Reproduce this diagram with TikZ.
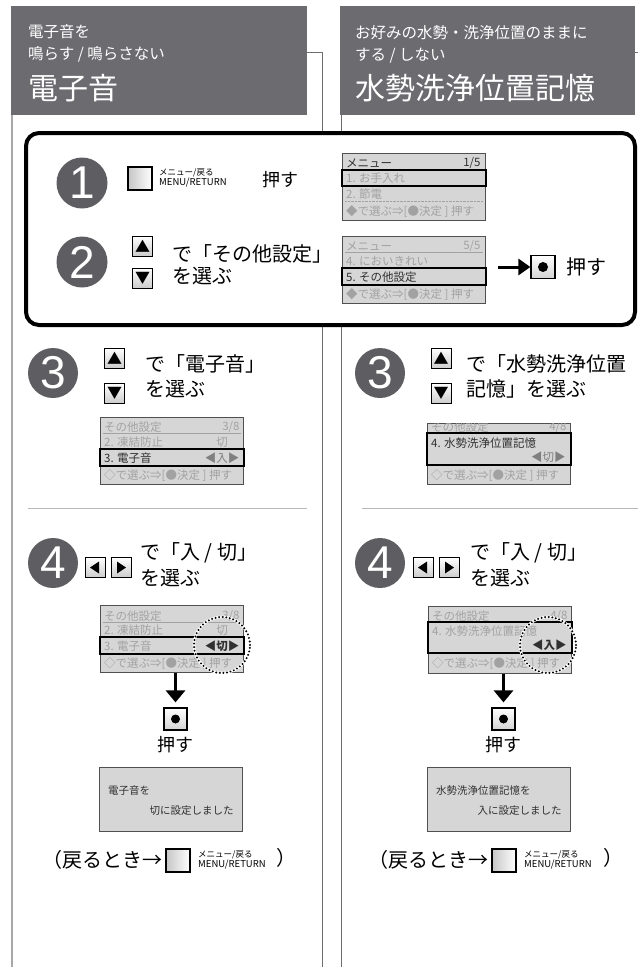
\documentclass[tikz,border=0pt]{standalone}
\usepackage{fontspec}
\setmainfont{Noto Sans CJK JP}
\newfontfamily\digitfont{Liberation Sans}
\usepackage{tikz}
\usetikzlibrary{arrows.meta, positioning, calc, backgrounds}

\definecolor{headgray}{HTML}{6B6B70}
\definecolor{numgray}{HTML}{5E5E62}
\definecolor{scrfill}{HTML}{D6D6D6}
\definecolor{scrline}{HTML}{505050}
\definecolor{scrdim}{HTML}{A2A2A2}
\definecolor{scrmid}{HTML}{808080}
\definecolor{scrtext}{HTML}{303030}
\definecolor{panelline}{HTML}{6E6E6E}
\definecolor{leftline}{HTML}{A8A8A8}
\definecolor{rulegray}{HTML}{B8B8B8}

\tikzset{
  headsmall/.style = {anchor=west, text=white, inner sep=0pt, font=\fontsize{15.5}{16}\selectfont},
  headbig/.style = {anchor=west, text=white, inner sep=0pt, font=\fontsize{30}{30}\selectfont},
  stepnum/.style = {circle, fill=numgray, text=white, minimum size=51pt, inner sep=0pt, font=\digitfont\fontsize{46}{46}\selectfont},
  keybtn/.style = {draw=black, line width=0.9pt, top color=white, bottom color=gray!40, minimum width=20pt, minimum height=20pt, inner sep=0pt, font=\fontsize{15}{15}\selectfont},
  menubtn/.style = {draw=black, line width=2pt, left color=gray!45, right color=white, minimum width=24pt, minimum height=23pt, inner sep=0pt},
  okbtn/.style = {draw=black, line width=1.2pt, top color=white, bottom color=gray!35, minimum width=24pt, minimum height=23pt, inner sep=0pt},
  btnlabel/.style = {align=left, inner sep=0pt, font=\fontsize{8.5}{10.5}\selectfont},
  screen/.style = {draw=scrline, line width=0.8pt, fill=scrfill, minimum width=143pt, minimum height=67pt, inner sep=0pt, anchor=north west},
  hilite/.style = {draw=black, line width=1.4pt},
  dimrow/.style = {text=scrdim, inner sep=0pt, font=\fontsize{11.5}{12}\selectfont},
  midrow/.style = {text=scrmid, inner sep=0pt, font=\fontsize{11.5}{12}\selectfont},
  litrow/.style = {text=scrtext, inner sep=0pt, font=\fontsize{11.5}{12}\selectfont},
  msgtxt/.style = {text=scrtext, inner sep=0pt, font=\fontsize{10.5}{11}\selectfont},
  bigtxt/.style = {anchor=west, align=left, inner sep=0pt, font=\fontsize{20}{25}\selectfont},
  pushtxt/.style = {inner sep=0pt, font=\fontsize{18}{18}\selectfont},
  backtxt/.style = {inner sep=0pt, font=\fontsize{20}{20}\selectfont},
  thickarrow/.style = {line width=3pt, -{Triangle[length=12pt, width=19pt]}},
  dotring/.style = {line width=2.2pt, line cap=round, dash pattern=on 0pt off 3.6pt},
}

\begin{document}
\begin{tikzpicture}[x=1pt, y=-1pt]
\useasboundingbox (0, 0) rectangle (638, 967);

% Column frames
\draw [leftline, line width=1.8pt] (12, 115) -- (12, 967);
\draw [panelline, line width=0.9pt] (307, 52) -- (322, 52) -- (322, 967);
\draw [panelline, line width=0.9pt] (341, 115) -- (341, 967);
\draw [panelline, line width=0.9pt] (635, 52) -- (638, 52);

% Headers
\fill [headgray] (11, 6) rectangle (307, 115);
\fill [headgray] (340, 6) rectangle (635, 115);
\node [headsmall] (hl1) at (28, 32) {電子音を};
\node [headsmall] (hl2) at (28, 54) {鳴らす / 鳴らさない};
\node [headbig] (hl3) at (28, 88) {電子音};
\node [headsmall] (hr1) at (355, 33) {お好みの水勢・洗浄位置のままに};
\node [headsmall] (hr2) at (355, 56) {する / しない};
\node [headbig] (hr3) at (355, 88) {水勢洗浄位置記憶};

% Steps 1 and 2 (common)
\draw [line width=4pt, fill=white, rounded corners=13pt] (26, 133) rectangle (635, 325);

\node [stepnum] (n1) at (82, 183) {1};
\node [menubtn] (mb1) at (140, 178) {};
\node [btnlabel, right=6pt of mb1] (mbl1) {メニュー/戻る\\{\fontsize{9.5}{10}\selectfont MENU/RETURN}};
\node [pushtxt] (p1) at (280, 180) {押す};

\node [screen] (scr1) at (342, 153) {};
\node [litrow, anchor=west] (scr1a) at ($(scr1.north west)+(4, 10)$) {メニュー};
\node [litrow, anchor=east] (scr1b) at ($(scr1.north east)+(-5, 10)$) {1/5};
\draw [scrtext, line width=0.6pt] ($(scr1.north west)+(3, 16)$) -- ($(scr1.north east)+(-3, 16)$);
\draw [hilite] ($(scr1.north west)+(0, 17)$) rectangle ($(scr1.north east)+(0, 33)$);
\node [dimrow, anchor=west] (scr1c) at ($(scr1.north west)+(4, 25)$) {1. お手入れ};
\node [dimrow, anchor=west] (scr1d) at ($(scr1.north west)+(4, 41)$) {2. 節電};
\draw [scrdim, densely dotted] ($(scr1.north west)+(3, 48)$) -- ($(scr1.north east)+(-3, 48)$);
\node [dimrow, anchor=west] (scr1e) at ($(scr1.north west)+(4, 58)$) {◆で選ぶ⇒[●決定 ] 押す};

\node [stepnum] (n2) at (82, 262) {2};
\node [keybtn] (up2) at (142.5, 246) {▲};
\node [keybtn] (dn2) at (142.5, 278) {▼};
\node [bigtxt, font=\fontsize{20}{22}\selectfont] (t2) at (172, 265) {で「その他設定」\\を選ぶ};

\node [screen] (scr2) at (342, 236) {};
\node [dimrow, anchor=west] (scr2a) at ($(scr2.north west)+(4, 10)$) {メニュー};
\node [dimrow, anchor=east] (scr2b) at ($(scr2.north east)+(-5, 10)$) {5/5};
\draw [scrdim, line width=0.6pt] ($(scr2.north west)+(3, 16)$) -- ($(scr2.north east)+(-3, 16)$);
\node [dimrow, anchor=west] (scr2c) at ($(scr2.north west)+(4, 25)$) {4. においきれい};
\draw [hilite] ($(scr2.north west)+(0, 32)$) rectangle ($(scr2.north east)+(0, 49)$);
\node [litrow, anchor=west] (scr2d) at ($(scr2.north west)+(4, 41)$) {5. その他設定};
\node [dimrow, anchor=west] (scr2e) at ($(scr2.north west)+(4, 58)$) {◆で選ぶ⇒[●決定 ] 押す};

\coordinate (a2) at (498, 267);
\node [okbtn] (ok2) at (543, 267) {};
\fill (ok2.center) circle (5pt);
\draw [line width=3pt, -{Triangle[length=12pt, width=16pt]}] (a2) -- (ok2.west);
\node [pushtxt, font=\fontsize{20}{20}\selectfont] (p2) at (586, 267) {押す};

% Step 3, left
\node [stepnum, minimum size=50pt] (n3l) at (53, 373) {3};
\node [keybtn] (up3l) at (114.5, 358) {▲};
\node [keybtn] (dn3l) at (114.5, 393.5) {▼};
\node [bigtxt] (t3l) at (145, 376) {で「電子音」\\を選ぶ};

\node [screen] (scr3l) at (100, 417) {};
\node [dimrow, anchor=west] (scr3la) at ($(scr3l.north west)+(4, 10)$) {その他設定};
\node [dimrow, anchor=east] (scr3lb) at ($(scr3l.north east)+(-4, 10)$) {3/8};
\draw [scrdim, line width=0.6pt] ($(scr3l.north west)+(3, 16)$) -- ($(scr3l.north east)+(-3, 16)$);
\node [dimrow, anchor=west] (scr3lc) at ($(scr3l.north west)+(4, 25)$) {2. 凍結防止};
\node [dimrow] (scr3ld) at ($(scr3l.north west)+(122, 25)$) {切};
\draw [hilite] ($(scr3l.north west)+(0, 32)$) rectangle ($(scr3l.north east)+(0, 49)$);
\node [litrow, anchor=west] (scr3le) at ($(scr3l.north west)+(4, 41)$) {3. 電子音};
\node [midrow] (scr3lf) at ($(scr3l.north west)+(122, 41)$) {◀入▶};
\node [dimrow, anchor=west] (scr3lg) at ($(scr3l.north west)+(4, 58)$) {◇で選ぶ⇒[●決定 ] 押す};

% Step 3, right
\node [stepnum, minimum size=50pt] (n3r) at (380, 373) {3};
\node [keybtn] (up3r) at (441, 358) {▲};
\node [keybtn] (dn3r) at (441, 393.5) {▼};
\node [bigtxt] (t3r) at (466, 376) {で「水勢洗浄位置\\記憶」を選ぶ};

\node [screen, minimum height=61pt] (scr3r) at (427, 423) {};
\begin{scope}
\clip (scr3r.north west) rectangle (scr3r.south east);
\node [dimrow, anchor=west] (scr3ra) at ($(scr3r.north west)+(4, 4)$) {その他設定};
\node [dimrow, anchor=east] (scr3rb) at ($(scr3r.north east)+(-4, 4)$) {4/8};
\end{scope}
\draw [hilite] ($(scr3r.north west)+(0, 10)$) rectangle ($(scr3r.north east)+(0, 42)$);
\node [litrow, anchor=west] (scr3rc) at ($(scr3r.north west)+(4, 20)$) {4. 水勢洗浄位置記憶};
\node [midrow, anchor=east] (scr3rd) at ($(scr3r.north east)+(-5, 34)$) {◀切▶};
\node [dimrow, anchor=west] (scr3re) at ($(scr3r.north west)+(4, 52)$) {◇で選ぶ⇒[●決定 ] 押す};

% Separators
\draw [rulegray, line width=0.9pt] (28, 508) -- (307, 508);
\draw [rulegray, line width=0.9pt] (362, 508) -- (638, 508);

% Step 4, left
\node [stepnum, minimum size=50pt] (n4l) at (53, 563) {4};
\node [keybtn] (lf4l) at (95, 567.5) {};
\fill ($(lf4l)+(-5, 0)$) -- ($(lf4l)+(4, -6)$) -- ($(lf4l)+(4, 6)$) -- cycle;
\node [keybtn] (rt4l) at (121, 567.5) {};
\fill ($(rt4l)+(5, 0)$) -- ($(rt4l)+(-4, -6)$) -- ($(rt4l)+(-4, 6)$) -- cycle;
\node [bigtxt, font=\fontsize{20}{26}\selectfont] (t4l) at (140, 565) {で「入 / 切」\\を選ぶ};

\node [screen] (scr4l) at (100, 605) {};
\node [dimrow, anchor=west] (scr4la) at ($(scr4l.north west)+(4, 11)$) {その他設定};
\node [dimrow, anchor=east] (scr4lb) at ($(scr4l.north east)+(-4, 11)$) {3/8};
\draw [scrdim, line width=0.6pt] ($(scr4l.north west)+(3, 17)$) -- ($(scr4l.north east)+(-3, 17)$);
\node [dimrow, anchor=west] (scr4lc) at ($(scr4l.north west)+(4, 25)$) {2. 凍結防止};
\node [dimrow] (scr4ld) at ($(scr4l.north west)+(122, 25)$) {切};
\draw [hilite] ($(scr4l.north west)+(0, 32)$) rectangle ($(scr4l.north east)+(0, 49)$);
\node [dimrow, anchor=west] (scr4le) at ($(scr4l.north west)+(4, 41)$) {3. 電子音};
\node [litrow, font=\fontsize{11.5}{12}\selectfont\bfseries] (scr4lf) at ($(scr4l.north west)+(122, 41)$) {◀切▶};
\node [dimrow, anchor=west] (scr4lg) at ($(scr4l.north west)+(4, 58)$) {◇で選ぶ⇒[●決定 ] 押す};
\coordinate (dotl) at (222, 645);
\draw [white, line width=2.6pt] (dotl) circle (28pt);
\draw [dotring] (dotl) circle (28pt);

\node [okbtn, minimum width=23pt, minimum height=22pt] (ok4l) at (175.5, 719) {};
\fill (ok4l.center) circle (4.5pt);
\draw [thickarrow, shorten >=5pt] (ok4l.north |- scr4l.south) -- (ok4l.north);
\node [pushtxt] (p4l) at (175.5, 745) {押す};

% Step 4, right
\node [stepnum, minimum size=50pt] (n4r) at (380, 563) {4};
\node [keybtn] (lf4r) at (423, 567.5) {};
\fill ($(lf4r)+(-5, 0)$) -- ($(lf4r)+(4, -6)$) -- ($(lf4r)+(4, 6)$) -- cycle;
\node [keybtn] (rt4r) at (449, 567.5) {};
\fill ($(rt4r)+(5, 0)$) -- ($(rt4r)+(-4, -6)$) -- ($(rt4r)+(-4, 6)$) -- cycle;
\node [bigtxt, font=\fontsize{20}{26}\selectfont] (t4r) at (470, 565) {で「入 / 切」\\を選ぶ};

\node [screen] (scr4r) at (428, 606) {};
\node [dimrow, anchor=west] (scr4ra) at ($(scr4r.north west)+(4, 10)$) {その他設定};
\node [dimrow, anchor=east] (scr4rb) at ($(scr4r.north east)+(-4, 10)$) {4/8};
\draw [hilite] ($(scr4r.north west)+(0, 16)$) rectangle ($(scr4r.north east)+(0, 47)$);
\node [dimrow, anchor=west] (scr4rc) at ($(scr4r.north west)+(4, 25)$) {4. 水勢洗浄位置記憶};
\node [litrow, anchor=east, font=\fontsize{11.5}{12}\selectfont\bfseries] (scr4rd) at ($(scr4r.north east)+(-5, 39)$) {◀入▶};
\node [dimrow, anchor=west] (scr4re) at ($(scr4r.north west)+(4, 57)$) {◇で選ぶ⇒[●決定 ] 押す};
\coordinate (dotr) at (548, 645);
\draw [white, line width=2.6pt] (dotr) circle (28pt);
\draw [dotring] (dotr) circle (28pt);

\node [okbtn, minimum width=23pt, minimum height=22pt] (ok4r) at (503.5, 719) {};
\fill (ok4r.center) circle (4.5pt);
\draw [thickarrow, shorten >=5pt] (ok4r.north |- scr4r.south) -- (ok4r.north);
\node [pushtxt] (p4r) at (503.5, 745) {押す};

% Result messages
\node [screen, minimum height=64pt] (msgl) at (99, 767) {};
\node [msgtxt, anchor=west] (msgla) at ($(msgl.north west)+(9, 24)$) {電子音を};
\node [msgtxt, anchor=east] (msglb) at ($(msgl.north east)+(-9, 44)$) {切に設定しました};

\node [screen, minimum height=64pt] (msgr) at (427, 767) {};
\node [msgtxt, anchor=west] (msgra) at ($(msgr.north west)+(9, 24)$) {水勢洗浄位置記憶を};
\node [msgtxt, anchor=east] (msgrb) at ($(msgr.north east)+(-9, 44)$) {入に設定しました};

% Return hints
\node [menubtn] (rbl) at (178, 860) {};
\node [backtxt, left=2pt of rbl] (bkl) {（戻るとき→};
\node [btnlabel, right=7pt of rbl] (rbll) {メニュー/戻る\\{\fontsize{9.5}{10}\selectfont MENU/RETURN}};
\node [backtxt] (cpl) at (286, 858) {）};

\node [menubtn] (rbr) at (504, 860) {};
\node [backtxt, left=2pt of rbr] (bkr) {（戻るとき→};
\node [btnlabel, right=7pt of rbr] (rbrl) {メニュー/戻る\\{\fontsize{9.5}{10}\selectfont MENU/RETURN}};
\node [backtxt] (cpr) at (613, 858) {）};

\begin{scope}[on background layer]
\fill [white] (0, 0) rectangle (638, 967);
\end{scope}

\end{tikzpicture}
\end{document}
